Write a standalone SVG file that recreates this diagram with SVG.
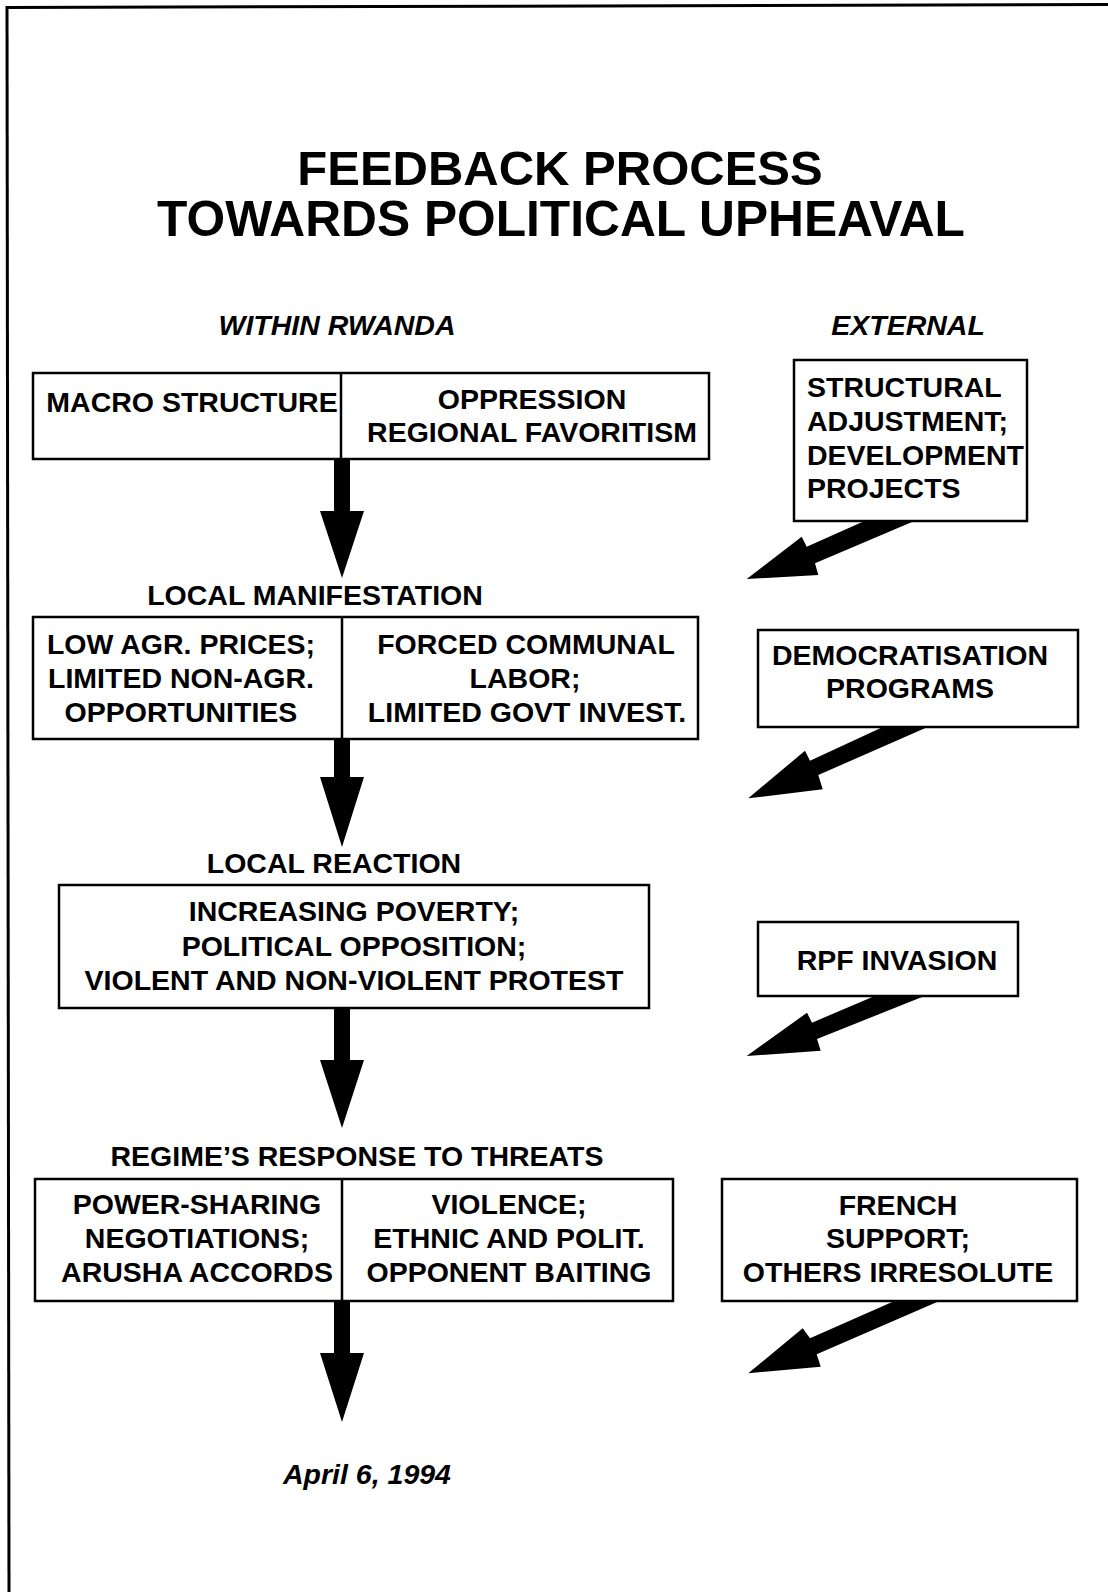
<svg xmlns="http://www.w3.org/2000/svg" width="1108" height="1592" viewBox="0 0 1108 1592">
<style>
  text { font-family: "Liberation Sans", Arial, Helvetica, sans-serif; font-weight: bold; fill: #000; }
  .t { font-size: 49px; text-anchor: middle; }
  .h { font-size: 28.5px; font-style: italic; text-anchor: middle; }
  .b { font-size: 28.5px; text-anchor: middle; }
  .bl { font-size: 28.5px; text-anchor: start; }
  .box { fill: #fff; stroke: #000; stroke-width: 2.5; }
  .div { stroke: #000; stroke-width: 2.5; }
  .arr { fill: #000; stroke: none; }
  .frame { stroke: #000; stroke-width: 3; fill: none; }
</style>
<rect x="0" y="0" width="1108" height="1592" fill="#fff"/>
<g id="page-frame">
  <line class="frame" x1="6" y1="7.5" x2="1108" y2="4.5"/>
  <line class="frame" x1="7" y1="6" x2="9" y2="1592"/>
</g>
<g id="title">
  <text class="t" x="560" y="185">FEEDBACK PROCESS</text>
  <text class="t" x="561" y="236" style="font-size:49.7px">TOWARDS POLITICAL UPHEAVAL</text>
</g>
<g id="headers">
  <text class="h" x="337" y="335">WITHIN RWANDA</text>
  <text class="h" x="908" y="335">EXTERNAL</text>
</g>
<g id="connectors">
  <polygon class="arr" points="334,459 350,459 350,511 364,511 342,578 320,511 334,511"/>
  <polygon class="arr" points="334,738 350,738 350,777 364,777 342,847 320,777 334,777"/>
  <polygon class="arr" points="334,1007 350,1007 350,1060 364,1060 342,1128 320,1060 334,1060"/>
  <polygon class="arr" points="334,1300 350,1300 350,1353 364,1353 342,1422 320,1353 334,1353"/>
  <polygon class="arr" points="866.7,520 806.7,546.7 801.7,536.7 746.7,579 818.3,575 815,563.3 916.7,520"/>
  <polygon class="arr" points="885,726 810,760.7 805,750.7 748.3,798.3 822.7,789.3 818.3,775 930,726"/>
  <polygon class="arr" points="877,995 812,1022.7 807,1012.7 746.7,1056 820.7,1050.7 817,1039 927,995"/>
  <polygon class="arr" points="896.7,1300 810,1338.3 802.7,1328.3 748.3,1373.3 820.7,1366.7 816.7,1354.3 941.7,1300"/>
</g>
<g id="macro-structure">
  <rect class="box" x="33" y="373" width="676" height="86"/>
  <line class="div" x1="341" y1="373" x2="341" y2="459"/>
  <text class="b" x="192" y="412">MACRO STRUCTURE</text>
  <text class="b" x="532" y="409">OPPRESSION</text>
  <text class="b" x="532" y="442">REGIONAL FAVORITISM</text>
</g>
<g id="label-local-manifestation">
  <text class="b" x="315" y="605">LOCAL MANIFESTATION</text>
</g>
<g id="local-manifestation">
  <rect class="box" x="33" y="617" width="665" height="122"/>
  <line class="div" x1="342" y1="617" x2="342" y2="739"/>
  <text class="b" x="181" y="654">LOW AGR. PRICES;</text>
  <text class="b" x="181" y="688">LIMITED NON-AGR.</text>
  <text class="b" x="181" y="722">OPPORTUNITIES</text>
  <text class="b" x="526" y="654">FORCED COMMUNAL</text>
  <text class="b" x="525" y="688">LABOR;</text>
  <text class="b" x="527" y="722">LIMITED GOVT INVEST.</text>
</g>
<g id="label-local-reaction">
  <text class="b" x="334" y="873">LOCAL REACTION</text>
</g>
<g id="local-reaction">
  <rect class="box" x="59" y="885" width="590" height="123"/>
  <text class="b" x="354" y="921">INCREASING POVERTY;</text>
  <text class="b" x="354" y="956">POLITICAL OPPOSITION;</text>
  <text class="b" x="354" y="990">VIOLENT AND NON-VIOLENT PROTEST</text>
</g>
<g id="label-regime-response">
  <text class="b" x="357" y="1166">REGIME’S RESPONSE TO THREATS</text>
</g>
<g id="regime-response">
  <rect class="box" x="35" y="1179" width="638" height="122"/>
  <line class="div" x1="342" y1="1179" x2="342" y2="1301"/>
  <text class="b" x="197" y="1214">POWER-SHARING</text>
  <text class="b" x="197" y="1248">NEGOTIATIONS;</text>
  <text class="b" x="197" y="1282">ARUSHA ACCORDS</text>
  <text class="b" x="509" y="1214">VIOLENCE;</text>
  <text class="b" x="509" y="1248">ETHNIC AND POLIT.</text>
  <text class="b" x="509" y="1282">OPPONENT BAITING</text>
</g>
<g id="date">
  <text class="h" x="367" y="1484">April 6, 1994</text>
</g>
<g id="structural-adjustment">
  <rect class="box" x="794" y="360" width="233" height="161"/>
  <text class="bl" x="807" y="397">STRUCTURAL</text>
  <text class="bl" x="807" y="431">ADJUSTMENT;</text>
  <text class="bl" x="807" y="465">DEVELOPMENT</text>
  <text class="bl" x="807" y="498">PROJECTS</text>
</g>
<g id="democratisation">
  <rect class="box" x="758" y="630" width="320" height="97"/>
  <text class="b" x="910" y="665">DEMOCRATISATION</text>
  <text class="b" x="910" y="698">PROGRAMS</text>
</g>
<g id="rpf-invasion">
  <rect class="box" x="758" y="922" width="260" height="74"/>
  <text class="b" x="897" y="970">RPF INVASION</text>
</g>
<g id="french-support">
  <rect class="box" x="722" y="1179" width="355" height="122"/>
  <text class="b" x="898" y="1215">FRENCH</text>
  <text class="b" x="898" y="1248">SUPPORT;</text>
  <text class="b" x="898" y="1282">OTHERS IRRESOLUTE</text>
</g>
</svg>
